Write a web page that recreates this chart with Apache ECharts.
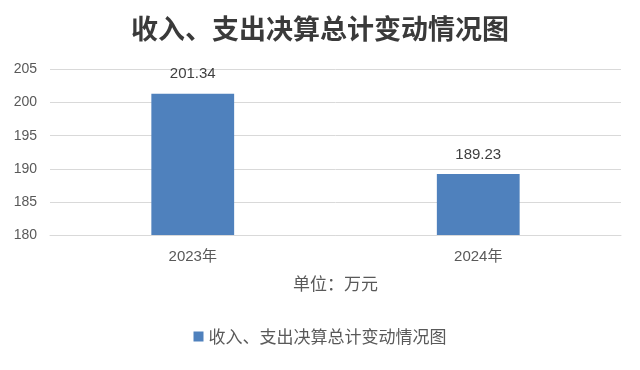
<!DOCTYPE html>
<html><head><meta charset="utf-8">
<script src="https://cdn.jsdelivr.net/npm/echarts@6/dist/echarts.min.js"></script>
<style>html,body{margin:0;padding:0;background:#fff}#c{width:640px;height:370px}</style>
</head><body><div id="c"></div>
<script>
var categories = ['2023年', '2024年'];
var seriesName = '收入、支出决算总计变动情况图';
var values = [201.34, 189.23];
var titleText = '收入、支出决算总计变动情况图';
var unitText = '单位：万元';

var ff = '"Liberation Sans", "Noto Sans CJK SC", sans-serif';
var chart = echarts.init(document.getElementById('c'));
chart.setOption({
  animation: false,
  textStyle: { fontFamily: ff },
  title: {
    text: titleText, left: 'center', top: 10,
    textStyle: { fontSize: 27, fontWeight: 'bold', color: '#3a3a3a', fontFamily: '"Noto Sans CJK SC", sans-serif' }
  },
  legend: {
    bottom: 20, left: 'center', icon: 'rect', itemWidth: 10, itemHeight: 10, itemGap: 6,
    textStyle: { fontSize: 17, color: '#595959', fontFamily: '"Noto Sans CJK SC", sans-serif' },
    data: [seriesName]
  },
  grid: { left: 50, right: 19, top: 69.5, height: 165.5, containLabel: false },
  xAxis: {
    type: 'category', data: categories,
    name: unitText, nameLocation: 'middle', nameGap: 40,
    nameTextStyle: { fontSize: 17, color: '#595959', fontFamily: '"Noto Sans CJK SC", sans-serif' },
    axisLine: { lineStyle: { color: '#d9d9d9' } },
    axisTick: { show: false },
    axisLabel: { fontSize: 15, color: '#595959', margin: 14 }
  },
  yAxis: {
    type: 'value', min: 180, max: 205, interval: 5,
    axisLine: { show: false }, axisTick: { show: false },
    axisLabel: { fontSize: 14, color: '#595959', margin: 13 },
    splitLine: { lineStyle: { color: '#d9d9d9' } }
  },
  series: [{
    name: seriesName, type: 'bar', data: values, barWidth: '29%',
    itemStyle: { color: '#4f81bd' },
    label: { show: true, position: 'top', distance: 12, fontSize: 15, color: '#404040', formatter: function(p){ return p.value.toFixed(2); } }
  }]
});
</script></body></html>
